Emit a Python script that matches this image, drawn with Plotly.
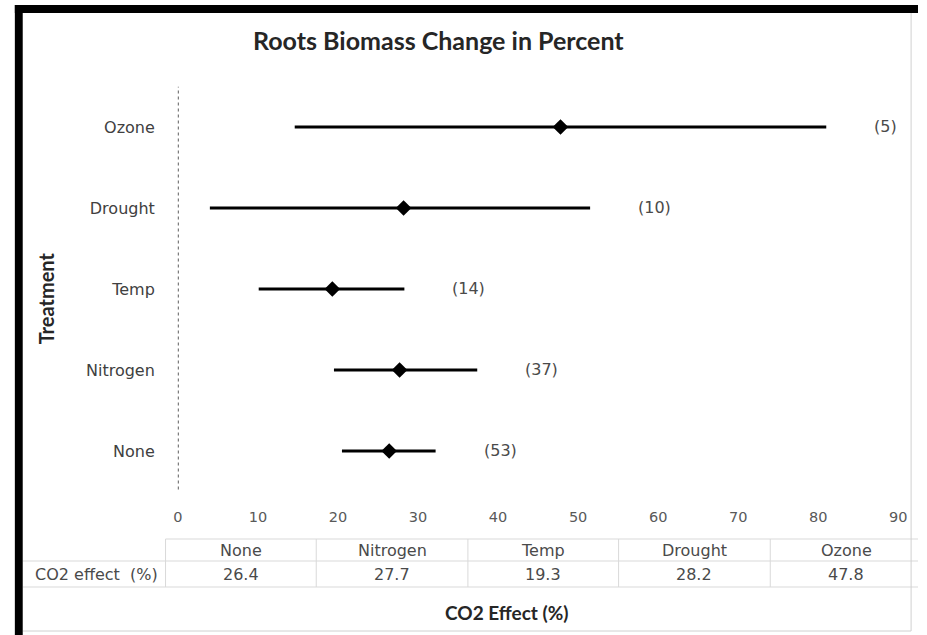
import plotly.graph_objects as go

# Treatments and their CO2 effect on root biomass (%), with confidence bounds
treatments = ["None", "Nitrogen", "Temp", "Drought", "Ozone"]
co2_effect = [26.4, 27.7, 19.3, 28.2, 47.8]
ci_low = [20.5, 19.5, 10.1, 4.0, 14.6]
ci_high = [32.2, 37.4, 28.3, 51.5, 81.0]
n_studies = [53, 37, 14, 10, 5]
x_ticks = [0, 10, 20, 30, 40, 50, 60, 70, 80, 90]

W, H = 927, 635


def px(x):
    return x / W


def py(y):
    return 1 - y / H


ypos = list(range(len(treatments)))
err_plus = [h - m for h, m in zip(ci_high, co2_effect)]
err_minus = [m - l for m, l in zip(co2_effect, ci_low)]

fig = go.Figure()
fig.add_trace(go.Scatter(
    x=co2_effect, y=ypos, mode="markers",
    marker=dict(symbol="diamond", size=12, color="black"),
    error_x=dict(type="data", symmetric=False, array=err_plus,
                 arrayminus=err_minus, color="black", thickness=2.8, width=0),
    showlegend=False, hoverinfo="x+y",
))

tick_col = "#595959"
label_font = dict(family="DejaVu Sans", size=16, color="#4a4a4a")


def text_at(x, y, text, font, **kw):
    d = dict(x=px(x), y=py(y), xref="paper", yref="paper", text=text,
             showarrow=False, xanchor="center", yanchor="middle", font=font)
    d.update(kw)
    return d


annotations = []
# sample sizes to the right of each interval
for i, (hi, n) in enumerate(zip(ci_high, n_studies)):
    annotations.append(dict(x=hi, y=i, xref="x", yref="y", text=f"({n})",
                            showarrow=False, xanchor="left", yanchor="middle",
                            xshift=46, font=label_font))

# title and axis titles
annotations.append(text_at(440, 40, "<b>Roots Biomass Change in Percent</b>",
                           dict(family="Lato", size=25, color="#262626")))
annotations.append(text_at(42, 298, "<b>Treatment</b>",
                           dict(family="Lato", size=20, color="#262626"), textangle=-90))
annotations.append(text_at(510, 612, "<b>CO2 Effect (%)</b>",
                           dict(family="Lato", size=19, color="#262626")))

# data table below the axis
t_top, t_mid, t_bot = 539, 561, 587
col_edges = [163, 316, 470, 623, 777, 931]
grid = "#d9d9d9"
shapes = []
shapes.append(dict(type="line", xref="paper", yref="paper", x0=px(163), x1=1,
                   y0=py(t_top), y1=py(t_top), line=dict(color=grid, width=1)))
for yy in (t_mid, t_bot):
    shapes.append(dict(type="line", xref="paper", yref="paper", x0=px(18), x1=1,
                       y0=py(yy), y1=py(yy), line=dict(color=grid, width=1)))
for xx in col_edges[:-1]:
    shapes.append(dict(type="line", xref="paper", yref="paper", x0=px(xx), x1=px(xx),
                       y0=py(t_top), y1=py(t_bot), line=dict(color=grid, width=1)))
for j, (name, val) in enumerate(zip(treatments, co2_effect)):
    cx = (col_edges[j] + col_edges[j + 1]) / 2
    annotations.append(text_at(cx, 550, name, label_font))
    annotations.append(text_at(cx, 574, f"{val:.1f}", label_font))
annotations.append(text_at(157, 574, "CO2 effect  (%)", label_font, xanchor="right"))

# dotted reference line at zero
shapes.append(dict(type="line", xref="x", yref="y", x0=0, x1=0, y0=-0.55, y1=4.5,
                   line=dict(color="#111111", width=1.4, dash="dot")))

# outer frame: heavy left/top edges, light right/bottom edges
shapes.append(dict(type="line", xref="paper", yref="paper", x0=px(920), x1=px(920),
                   y0=py(13), y1=py(631), line=dict(color="#d0d0d0", width=1)))
shapes.append(dict(type="line", xref="paper", yref="paper", x0=px(18), x1=px(920),
                   y0=py(631), y1=py(631), line=dict(color="#d0d0d0", width=1)))
shapes.append(dict(type="rect", xref="paper", yref="paper", x0=px(10), x1=px(18),
                   y0=py(635), y1=py(5), fillcolor="black", line=dict(width=0)))
shapes.append(dict(type="rect", xref="paper", yref="paper", x0=px(10), x1=1,
                   y0=py(13), y1=py(5), fillcolor="black", line=dict(width=0)))

fig.update_layout(
    width=W, height=H,
    margin=dict(l=0, r=0, t=0, b=0),
    paper_bgcolor="white", plot_bgcolor="white",
    xaxis=dict(domain=[px(175.5), px(907)], range=[0, 90], tickvals=x_ticks,
               showgrid=False, zeroline=False, showline=False, ticks="",
               tickfont=dict(family="DejaVu Sans", size=14.5, color=tick_col),
               ticklabelstandoff=15, fixedrange=True),
    yaxis=dict(domain=[py(491.5), py(86.5)], range=[-0.5, 4.5], tickvals=ypos,
               ticktext=treatments, showgrid=False, zeroline=False, showline=False,
               ticks="", tickfont=dict(family="DejaVu Sans", size=16, color="#404040"),
               ticklabelstandoff=22, fixedrange=True),
    shapes=shapes,
    annotations=annotations,
)

fig.write_html("out.html", config={"displayModeBar": False})
